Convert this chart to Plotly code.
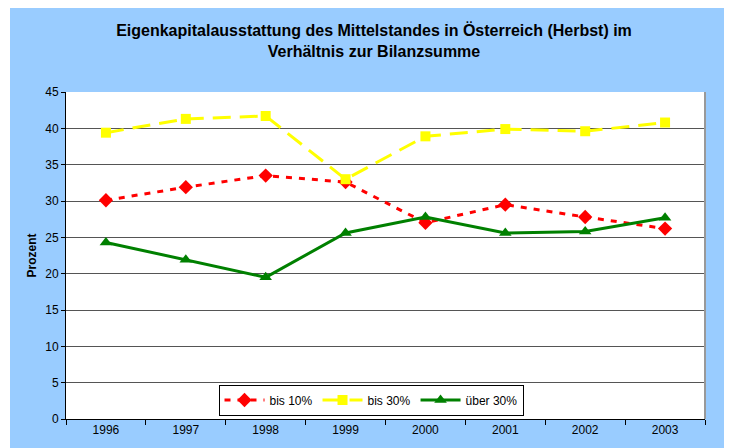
import plotly.graph_objects as go

years = ["1996", "1997", "1998", "1999", "2000", "2001", "2002", "2003"]
bis10 = [30.1, 31.9, 33.5, 32.6, 27.0, 29.5, 27.8, 26.2]
bis30 = [39.4, 41.3, 41.7, 33.0, 38.9, 39.9, 39.6, 40.8]
ueber30 = [24.3, 21.9, 19.5, 25.6, 27.8, 25.6, 25.8, 27.7]
y_ticks = [0, 5, 10, 15, 20, 25, 30, 35, 40, 45]

W, H = 732, 448
L, R, T, B = 58, 35, 84, 37
pw = W - L - R
ph = H - T - B

fig = go.Figure()
fig.add_trace(go.Scatter(x=years, y=bis10, name="bis 10%", mode="lines+markers",
                         line=dict(color="#FF0000", width=3, dash="6px,7px"),
                         marker=dict(symbol="diamond", size=11, color="#FF0000")))
fig.add_trace(go.Scatter(x=years, y=bis30, name="bis 30%", mode="lines+markers",
                         line=dict(color="#FFFF00", width=3, dash="18px,9px"),
                         marker=dict(symbol="square", size=10, color="#FFFF00")))
fig.add_trace(go.Scatter(x=years, y=ueber30, name="über 30%", mode="lines+markers",
                         line=dict(color="#008000", width=3),
                         marker=dict(symbol="triangle-up", size=11, color="#008000")))

# thin white strip at the left edge of the page
fig.add_shape(type="rect", xref="paper", yref="paper", layer="below",
              x0=-L / pw - 0.01, x1=(2 - L) / pw, y0=-B / ph - 0.1, y1=1 + T / ph + 0.1,
              fillcolor="white", line_width=0)

fig.update_layout(
    width=W, height=H,
    margin=dict(l=L, r=R, t=T, b=B, pad=0),
    paper_bgcolor="#99CCFF",
    plot_bgcolor="white",
    font=dict(family="Liberation Sans, Arial, sans-serif", size=12, color="black"),
    title=dict(text="<b>Eigenkapitalausstattung des Mittelstandes in Österreich (Herbst) im<br>Verhältnis zur Bilanzsumme</b>",
               x=366 / W, xanchor="center", y=1 - 28 / H, yanchor="top",
               font=dict(size=16, color="black")),
    showlegend=True,
    legend=dict(orientation="h", x=(363 - L) / pw, xanchor="center", y=(411 - 392) / ph, yanchor="middle",
                bgcolor="white", bordercolor="black", borderwidth=1,
                font=dict(size=12), itemwidth=40, tracegroupgap=0),
    xaxis=dict(type="category", tickson="boundaries", showgrid=False,
               ticks="outside", ticklen=5, tickcolor="black",
               showline=True, linecolor="black", linewidth=1, mirror=False,
               range=[-0.5, 7.5], tickfont=dict(size=12)),
    yaxis=dict(range=[0, 45], tickvals=y_ticks, ticks="outside", ticklen=4, tickcolor="black",
               showline=True, linecolor="black", linewidth=1,
               showgrid=True, gridcolor="#555555", gridwidth=1, zeroline=False,
               title=dict(text="<b>Prozent</b>", font=dict(size=12), standoff=6),
               tickfont=dict(size=12)),
)
fig.add_shape(type="line", xref="paper", yref="paper", x0=1, x1=1, y0=0, y1=1,
              line=dict(color="#999999", width=2))
fig.write_html("out.html")
